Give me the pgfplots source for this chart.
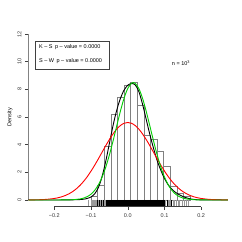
\documentclass[border=0pt]{standalone}
\usepackage{fontspec}
\setmainfont{Liberation Sans}
\usepackage{pgfplots}
\pgfplotsset{compat=1.18}
\definecolor{rgreen}{RGB}{0,205,0}
\definecolor{rred}{RGB}{255,0,0}
\begin{document}
\begin{tikzpicture}[x=1pt,y=1pt,font=\fontsize{5.5}{6.6}\selectfont]
\path[use as bounding box] (0,0) rectangle (242,242);
\begin{axis}[at={(28.3pt,35.4pt)}, anchor=south west, scale only axis,
  width=199.7pt, height=179.2pt,
  xmin=-0.271, xmax=0.273, ymin=-0.48, ymax=12.48,
  axis x line*=bottom, axis y line*=left, axis line style={draw=none},
  tick align=outside, major tick length=3.3pt,
  tick style={black!75, line width=0.4pt},
  xtick={-0.2,-0.1,0,0.1,0.2},
  xticklabels={−0.2,−0.1,0.0,0.1,0.2},
  ytick={0,2,4,6,8,10,12},
  yticklabels={0,2,4,6,8,10,12},
  tick label style={font=\fontsize{5.5}{6.6}\selectfont, text=black!80},
  yticklabel style={rotate=90, anchor=south},
  ylabel={Density},
  ylabel style={at={(axis description cs:-0.092,0.5)}, anchor=center, font=\fontsize{5.5}{6.6}\selectfont},
]
\addplot[ybar interval, draw=black!50, fill=none, line width=0.6pt] coordinates {
(-0.100,0.3) (-0.082,1.08) (-0.064,3.85) (-0.046,6.2) (-0.028,7.4) (-0.010,8.27)
(0.008,8.5) (0.026,6.87) (0.044,4.7) (0.062,4.4) (0.080,3.5) (0.098,2.4)
(0.116,0.96) (0.134,0.48) (0.152,0.24) (0.170,0)};
\addplot[ycomb, black!40, line width=0.3pt, no markers] table[row sep=\\, y expr=-0.48] {
x\\ -0.107\\ -0.101\\ -0.097\\ -0.094\\ -0.091\\ -0.088\\ -0.086\\ -0.083\\ -0.081\\ -0.079\\ -0.077\\ -0.075\\ -0.073\\ -0.071\\ -0.069\\ -0.067\\ -0.065\\ -0.063\\ -0.061\\
0.103\\ 0.106\\ 0.109\\ 0.112\\ 0.116\\ 0.119\\ 0.123\\ 0.127\\ 0.131\\ 0.136\\ 0.141\\ 0.147\\ 0.153\\ 0.159\\ 0.165\\
};
\addplot[ycomb, black, line width=0.3pt, no markers] table[row sep=\\, y expr=-0.48] {
x\\ -0.084\\ -0.078\\ -0.072\\ -0.066\\ -0.059\\ -0.057\\ -0.055\\ -0.053\\ -0.051\\ -0.049\\ -0.047\\ -0.045\\ -0.043\\ -0.041\\ -0.039\\ -0.037\\ -0.035\\ -0.033\\ -0.031\\ -0.029\\ -0.027\\ -0.025\\ -0.023\\ -0.021\\ -0.019\\ -0.017\\ -0.015\\ -0.013\\ -0.011\\ -0.009\\ -0.007\\ -0.005\\ -0.003\\ -0.001\\
0.001\\ 0.003\\ 0.005\\ 0.007\\ 0.009\\ 0.011\\ 0.013\\ 0.015\\ 0.017\\ 0.019\\ 0.021\\ 0.023\\ 0.025\\ 0.027\\ 0.029\\ 0.031\\ 0.033\\ 0.035\\ 0.037\\ 0.039\\ 0.041\\ 0.043\\ 0.045\\ 0.047\\ 0.049\\ 0.051\\ 0.053\\ 0.055\\ 0.057\\ 0.059\\ 0.061\\ 0.063\\ 0.065\\ 0.067\\ 0.069\\ 0.071\\ 0.073\\ 0.075\\ 0.077\\ 0.079\\ 0.081\\ 0.083\\ 0.085\\ 0.088\\ 0.090\\ 0.093\\ 0.095\\ 0.098\\ 0.100\\
-0.058\\ -0.054\\ -0.050\\ -0.046\\ -0.042\\ -0.038\\ -0.034\\ -0.030\\ -0.026\\ -0.022\\ -0.018\\ -0.014\\ -0.010\\ -0.006\\ -0.002\\ 0.002\\ 0.006\\ 0.010\\ 0.014\\ 0.018\\ 0.022\\ 0.026\\ 0.030\\ 0.034\\ 0.038\\ 0.042\\ 0.046\\ 0.050\\ 0.054\\ 0.058\\ 0.062\\ 0.066\\ 0.070\\ 0.074\\ 0.078\\ 0.082\\ 0.086\\ 0.092\\ 0.097\\ 0.108\\ 0.118\\
};
\addplot[black, line width=0.9pt, smooth] coordinates {
(-0.271,0) (-0.20,0.0) (-0.16,0.005) (-0.13,0.03) (-0.115,0.08) (-0.105,0.16) (-0.10,0.22)
(-0.09,0.45) (-0.08,0.9) (-0.07,1.7) (-0.06,2.8) (-0.05,4.1) (-0.04,5.4) (-0.03,6.5)
(-0.02,7.35) (-0.01,7.95) (0.0,8.3) (0.01,8.42) (0.02,8.33) (0.03,7.85) (0.04,6.95)
(0.05,5.85) (0.06,4.75) (0.07,3.75) (0.08,2.85) (0.09,2.15) (0.10,1.55) (0.11,1.1)
(0.12,0.78) (0.13,0.55) (0.14,0.38) (0.15,0.25) (0.16,0.15) (0.17,0.08) (0.18,0.04)
(0.20,0.008) (0.273,0)};
\addplot[rred, line width=0.9pt, smooth] coordinates {
(-0.271,0.004) (-0.24,0.019) (-0.22,0.047) (-0.20,0.108) (-0.19,0.159) (-0.18,0.229)
(-0.17,0.324) (-0.16,0.449) (-0.15,0.609) (-0.14,0.811) (-0.13,1.058) (-0.12,1.354)
(-0.11,1.699) (-0.10,2.090) (-0.09,2.520) (-0.08,2.981) (-0.07,3.456) (-0.06,3.928)
(-0.05,4.379) (-0.04,4.785) (-0.03,5.127) (-0.02,5.386) (-0.01,5.548) (0.00,5.603)
(0.01,5.548) (0.02,5.386) (0.03,5.127) (0.04,4.785) (0.05,4.379) (0.06,3.928)
(0.07,3.456) (0.08,2.981) (0.09,2.520) (0.10,2.090) (0.11,1.699) (0.12,1.354)
(0.13,1.058) (0.14,0.811) (0.15,0.609) (0.16,0.449) (0.17,0.324) (0.18,0.229)
(0.19,0.159) (0.20,0.108) (0.22,0.047) (0.24,0.019) (0.273,0.004)};
\addplot[rgreen, line width=0.9pt, smooth] coordinates {
(-0.271,0) (-0.20,0.0) (-0.17,0.004) (-0.15,0.018) (-0.13,0.073) (-0.12,0.137)
(-0.11,0.247) (-0.10,0.425) (-0.09,0.700) (-0.08,1.101) (-0.07,1.654) (-0.06,2.376)
(-0.05,3.262) (-0.04,4.280) (-0.03,5.367) (-0.02,6.433) (-0.01,7.369) (0.00,8.066)
(0.01,8.440) (0.015,8.488) (0.02,8.440) (0.03,8.066) (0.04,7.369) (0.05,6.433)
(0.06,5.367) (0.07,4.280) (0.08,3.262) (0.09,2.376) (0.10,1.654) (0.11,1.101)
(0.12,0.700) (0.13,0.425) (0.14,0.247) (0.15,0.137) (0.16,0.073) (0.18,0.018)
(0.20,0.004) (0.23,0) (0.273,0)};
\draw[black!75, line width=0.4pt] (axis cs:-0.2,-0.48) -- (axis cs:0.2,-0.48);
\draw[black!75, line width=0.4pt] (axis cs:-0.271,0) -- (axis cs:-0.271,12);
\end{axis}
\draw[black!75, line width=0.5pt] (35.7,172.7) rectangle (109.3,201);
\node[anchor=west, inner sep=0pt] at (39,195.3) {K -- S\, p -- value = 0.0000};
\node[anchor=west, inner sep=0pt] at (39,181) {S -- W\, p -- value = 0.0000};
\node[inner sep=0pt] at (181,179) {n = 10\textsuperscript{3}};
\end{tikzpicture}
\end{document}
